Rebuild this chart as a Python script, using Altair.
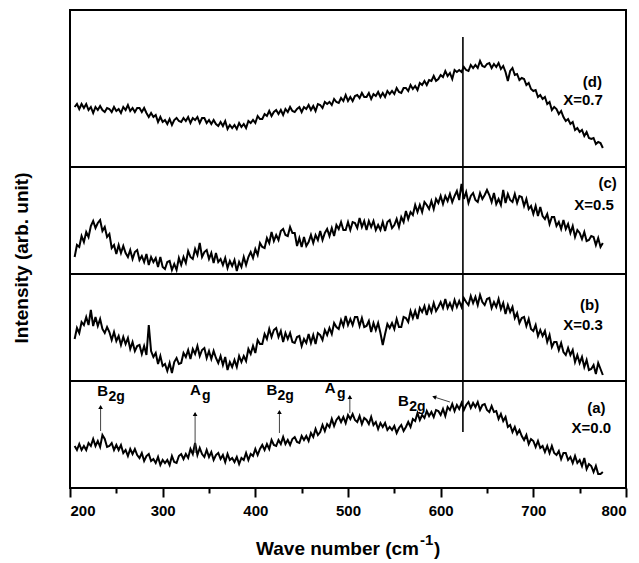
import altair as alt
import pandas as pd

# ---------------- data ----------------
# sampling grid of the spectra (cm^-1), 205 ... 775 every 2.5
wavenumber = [205 + 2.5 * i for i in range(229)]

# intensities (arb. units)
x00 = [42, 38, 44, 38, 42, 38, 45, 42, 49, 42,
       47, 41, 53, 49, 41, 42, 45, 38, 43, 38,
       43, 35, 38, 32, 39, 34, 39, 33, 30, 35,
       27, 32, 34, 27, 29, 25, 31, 23, 28, 25,
       28, 23, 32, 26, 25, 32, 34, 29, 34, 30,
       39, 34, 45, 33, 40, 34, 31, 38, 31, 36,
       28, 33, 35, 29, 33, 26, 34, 28, 30, 26,
       31, 24, 30, 28, 35, 28, 34, 32, 39, 33,
       39, 43, 38, 44, 39, 48, 43, 42, 48, 44,
       51, 44, 48, 43, 49, 51, 46, 45, 52, 48,
       52, 47, 55, 51, 59, 53, 56, 63, 57, 64,
       61, 69, 62, 68, 71, 66, 71, 65, 73, 69,
       74, 68, 66, 72, 64, 70, 68, 64, 71, 63,
       66, 59, 65, 61, 65, 58, 61, 58, 62, 55,
       60, 63, 57, 61, 66, 61, 69, 67, 75, 68,
       73, 70, 77, 72, 76, 71, 78, 77, 73, 79,
       72, 81, 78, 84, 77, 83, 79, 85, 78, 83,
       86, 80, 85, 81, 86, 78, 83, 84, 78, 76,
       82, 76, 77, 69, 74, 67, 71, 61, 63, 56,
       61, 54, 58, 52, 48, 53, 44, 49, 47, 41,
       47, 40, 42, 36, 42, 35, 42, 35, 33, 37,
       29, 35, 35, 28, 31, 25, 32, 25, 28, 22,
       30, 19, 24, 22, 16, 22, 14, 14, 16]
x03 = [42, 53, 48, 59, 56, 64, 56, 71, 55, 64,
       55, 62, 52, 48, 54, 49, 41, 49, 40, 45,
       36, 44, 37, 43, 32, 39, 30, 35, 36, 27,
       35, 26, 56, 30, 24, 28, 17, 25, 15, 17,
       10, 18, 8, 19, 23, 17, 18, 28, 24, 31,
       22, 32, 27, 35, 25, 31, 33, 23, 30, 22,
       30, 23, 18, 25, 16, 24, 11, 19, 14, 21,
       14, 25, 19, 25, 20, 32, 27, 35, 28, 41,
       37, 37, 47, 42, 52, 44, 51, 53, 44, 50,
       39, 48, 42, 48, 39, 38, 44, 45, 35, 42,
       38, 47, 38, 46, 37, 48, 46, 41, 51, 46,
       53, 47, 58, 54, 52, 61, 55, 65, 56, 62,
       56, 64, 64, 55, 63, 54, 55, 60, 49, 58,
       51, 58, 48, 36, 47, 57, 53, 58, 52, 62,
       54, 54, 64, 63, 59, 70, 63, 70, 62, 73,
       69, 75, 66, 75, 69, 78, 70, 74, 79, 73,
       82, 73, 78, 72, 81, 74, 80, 74, 83, 79,
       76, 85, 78, 84, 76, 86, 79, 76, 82, 83,
       73, 79, 74, 82, 72, 78, 67, 76, 69, 74,
       63, 68, 58, 63, 64, 55, 62, 52, 50, 56,
       45, 51, 45, 50, 39, 46, 34, 39, 39, 31,
       38, 29, 26, 33, 26, 31, 19, 26, 18, 24,
       14, 21, 11, 12, 16, 7, 18, 12, 6]
x05 = [17, 29, 27, 38, 32, 42, 37, 48, 53, 46,
       51, 54, 43, 47, 37, 40, 26, 29, 20, 29,
       21, 28, 21, 17, 24, 15, 22, 24, 14, 18,
       12, 20, 9, 17, 12, 16, 7, 17, 7, 5,
       12, 13, 4, 10, 4, 16, 9, 17, 11, 23,
       17, 15, 25, 19, 31, 17, 22, 24, 15, 21,
       11, 21, 12, 15, 9, 16, 6, 13, 8, 14,
       3, 12, 7, 17, 9, 17, 22, 16, 25, 19,
       31, 27, 26, 36, 31, 42, 33, 39, 34, 43,
       45, 39, 38, 47, 41, 41, 28, 36, 27, 37,
       28, 32, 39, 31, 39, 34, 43, 34, 41, 45,
       38, 46, 38, 49, 45, 52, 44, 44, 52, 44,
       52, 51, 46, 56, 47, 53, 44, 53, 47, 53,
       44, 49, 44, 52, 43, 52, 54, 46, 49, 55,
       47, 57, 52, 63, 55, 62, 59, 69, 62, 69,
       62, 72, 69, 65, 73, 65, 75, 71, 78, 70,
       78, 73, 80, 72, 78, 83, 74, 90, 75, 82,
       71, 78, 81, 74, 72, 81, 75, 79, 84, 79,
       72, 81, 70, 75, 69, 84, 71, 80, 74, 72,
       80, 71, 78, 77, 68, 75, 65, 68, 60, 68,
       58, 67, 58, 55, 60, 50, 57, 57, 48, 52,
       45, 54, 45, 50, 41, 48, 37, 44, 41, 35,
       42, 33, 34, 38, 37, 29, 36, 27, 31]
x07 = [60, 63, 58, 63, 59, 63, 57, 60, 54, 60,
       57, 61, 57, 55, 59, 58, 55, 60, 56, 58,
       54, 60, 57, 62, 56, 59, 55, 59, 59, 55,
       59, 54, 50, 54, 50, 52, 45, 50, 45, 47,
       43, 48, 42, 47, 49, 46, 45, 49, 46, 50,
       44, 49, 47, 50, 44, 49, 49, 44, 47, 43,
       47, 43, 41, 45, 41, 46, 38, 42, 39, 42,
       38, 44, 40, 43, 39, 46, 44, 47, 44, 51,
       48, 48, 53, 51, 56, 51, 55, 57, 53, 57,
       52, 58, 55, 60, 56, 55, 58, 60, 55, 60,
       58, 62, 57, 61, 56, 63, 62, 59, 65, 63,
       65, 62, 68, 65, 64, 69, 66, 72, 66, 70,
       66, 71, 72, 69, 74, 70, 70, 74, 68, 73,
       71, 75, 70, 74, 70, 76, 73, 76, 73, 79,
       75, 74, 79, 79, 76, 82, 78, 81, 77, 84,
       82, 86, 82, 87, 86, 91, 86, 88, 92, 90,
       96, 91, 94, 88, 97, 95, 97, 95, 100, 97,
       96, 102, 99, 102, 99, 106, 101, 100, 103, 104,
       99, 103, 100, 104, 98, 101, 95, 86, 96, 99,
       92, 93, 87, 89, 88, 82, 84, 78, 76, 77,
       70, 72, 68, 70, 63, 65, 57, 60, 58, 53,
       56, 50, 46, 48, 43, 45, 37, 39, 35, 37,
       31, 35, 29, 28, 29, 23, 25, 24, 19]

panels = ["X=0.0", "X=0.3", "X=0.5", "X=0.7"]
panel_letters = ["(a)", "(b)", "(c)", "(d)"]
panel_offsets = [0, 107, 214, 321]          # vertical stacking of the spectra
series = [x00, x03, x05, x07]
separators = [107, 214, 321]
ref_line_x = 624                            # vertical reference line (cm^-1)

major_ticks = [200, 300, 400, 500, 600, 700, 800]
minor_ticks = [250, 350, 450, 550, 650, 750]

# Raman mode annotations on spectrum (a)
mode_main = ["B", "A", "B", "A", "B"]
mode_sub = ["2g", "g", "2g", "g", "2g"]

# ---------------- tables ----------------
rows = []
for name, off, vals in zip(panels, panel_offsets, series):
    for w, v in zip(wavenumber, vals):
        rows.append({"wn": w, "y": off + v, "panel": name})
spec = pd.DataFrame(rows)

lab = pd.DataFrame({
    "x": [778, 771, 790, 774],
    "y_letter": [80, 183, 305, 406],
    "x2": [784, 775, 787, 775],
    "y_name": [60, 163, 283, 388],
    "letter": panel_letters,
    "name": panels,
})

ann = pd.DataFrame({
    "main": mode_main,
    "sub": mode_sub,
    "xm": [229.5, 329.5, 412, 475, 554],
    "ym": [92, 93, 93, 95, 82],
    "xs": [241.5, 342.5, 424, 488, 566],
    "ys": [87, 88, 88, 90, 77],
})

arrows = pd.DataFrame({
    "x": [233, 335, 426, 502, 610],
    "x2": [233, 335, 426, 502, 593],
    "y": [57, 35, 55, 75, 86],
    "y2": [82, 75, 77, 92, 91],
})
heads = pd.DataFrame({
    "x": [233, 335, 426, 502, 593],
    "y": [81, 74, 76, 91, 91],
    "ang": [0, 0, 0, 0, 288],
})

FONT = "Liberation Sans"
xs = alt.Scale(domain=[200, 800], nice=False)
ys = alt.Scale(domain=[0, 478], nice=False, zero=False)

lines = alt.Chart(spec).mark_line(color="black", strokeWidth=2.0).encode(
    x=alt.X("wn:Q", scale=xs, axis=alt.Axis(
        orient="bottom", values=major_ticks, format="d", tickSize=9, tickWidth=2,
        tickColor="black", labelPadding=6, labelFontSize=15, labelFontWeight="bold",
        labelFont=FONT, labelColor="black", domain=False, grid=False, title=None)),
    y=alt.Y("y:Q", scale=ys, axis=None),
    detail="panel:N",
)

minor = alt.Chart(pd.DataFrame({"t": minor_ticks, "z": [0] * len(minor_ticks)})).mark_point(
    opacity=0).encode(
    x=alt.X("t:Q", scale=xs, axis=alt.Axis(
        orient="bottom", values=minor_ticks, labels=False, tickSize=5, tickWidth=2,
        tickColor="black", domain=False, grid=False, title=None)),
    y=alt.Y("z:Q", scale=ys, axis=None),
)

sep = alt.Chart(pd.DataFrame({"s": separators})).mark_rule(color="black", strokeWidth=2).encode(
    y=alt.Y("s:Q", scale=ys, axis=None), x=alt.value(0), x2=alt.value(556))

vline = alt.Chart(pd.DataFrame({"x": [ref_line_x], "y": [56], "y2": [451]})).mark_rule(
    color="black", strokeWidth=1.6).encode(
    x=alt.X("x:Q", scale=xs, axis=None), y=alt.Y("y:Q", scale=ys, axis=None), y2="y2:Q")

letters = alt.Chart(lab).mark_text(align="right", baseline="middle", font=FONT,
                                   fontSize=15, fontWeight="bold", color="black").encode(
    x=alt.X("x:Q", scale=xs, axis=None), y=alt.Y("y_letter:Q", scale=ys, axis=None), text="letter:N")
names = alt.Chart(lab).mark_text(align="right", baseline="middle", font=FONT,
                                 fontSize=15, fontWeight="bold", color="black").encode(
    x=alt.X("x2:Q", scale=xs, axis=None), y=alt.Y("y_name:Q", scale=ys, axis=None), text="name:N")

ann_main = alt.Chart(ann).mark_text(align="left", baseline="alphabetic", font=FONT,
                                    fontSize=15, fontWeight="bold", color="black").encode(
    x=alt.X("xm:Q", scale=xs, axis=None), y=alt.Y("ym:Q", scale=ys, axis=None), text="main:N")
ann_sub = alt.Chart(ann).mark_text(align="left", baseline="alphabetic", font=FONT,
                                   fontSize=14, fontWeight="bold", color="black").encode(
    x=alt.X("xs:Q", scale=xs, axis=None), y=alt.Y("ys:Q", scale=ys, axis=None), text="sub:N")

arrow_lines = alt.Chart(arrows).mark_rule(color="#444444", strokeWidth=1).encode(
    x=alt.X("x:Q", scale=xs, axis=None), x2="x2:Q",
    y=alt.Y("y:Q", scale=ys, axis=None), y2="y2:Q")
arrow_heads = alt.Chart(heads).mark_point(shape="triangle-up", filled=True, size=22,
                                          color="black", opacity=1).encode(
    x=alt.X("x:Q", scale=xs, axis=None), y=alt.Y("y:Q", scale=ys, axis=None),
    angle=alt.Angle("ang:Q", scale=None))

# axis titles (x title carries a raised "-1")
ytitle = alt.Chart(pd.DataFrame({"t": ["Intensity (arb. unit)"]})).mark_text(
    angle=270, align="center", baseline="middle", font=FONT, fontSize=19,
    fontWeight="bold", color="black").encode(
    x=alt.value(-48), y=alt.value(248), text="t:N")
xtitle_main = alt.Chart(pd.DataFrame({"t": ["Wave number (cm"]})).mark_text(
    align="right", baseline="alphabetic", font=FONT, fontSize=19,
    fontWeight="bold", color="black").encode(
    x=alt.value(349), y=alt.value(545), text="t:N")
xtitle_sup = alt.Chart(pd.DataFrame({"t": ["-1"]})).mark_text(
    align="left", baseline="alphabetic", font=FONT, fontSize=15,
    fontWeight="bold", color="black").encode(
    x=alt.value(350), y=alt.value(535), text="t:N")
xtitle_end = alt.Chart(pd.DataFrame({"t": [")"]})).mark_text(
    align="left", baseline="alphabetic", font=FONT, fontSize=19,
    fontWeight="bold", color="black").encode(
    x=alt.value(364), y=alt.value(545), text="t:N")

chart = alt.layer(
    lines, minor, sep, vline, arrow_lines, arrow_heads, ann_main, ann_sub, letters, names,
    ytitle, xtitle_main, xtitle_sup, xtitle_end
).resolve_axis(x="independent").properties(
    width=556, height=478,
    autosize=alt.AutoSizeParams(type="none"),
    padding={"left": 70, "top": 10, "right": 13, "bottom": 75},
    background="white",
).configure_view(stroke="black", strokeWidth=2)

chart.save("out.html", embed_options={"renderer": "svg", "actions": False})
